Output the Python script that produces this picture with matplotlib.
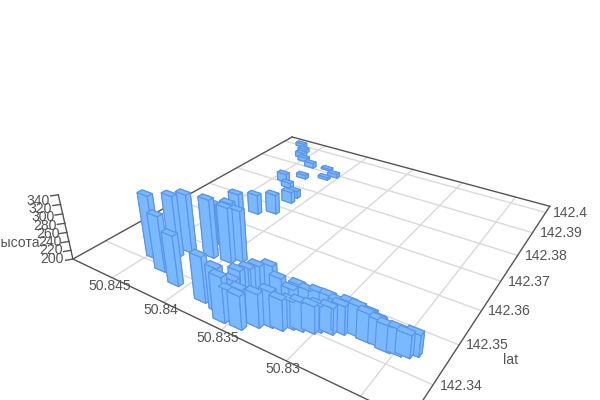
import numpy as np
import matplotlib
matplotlib.use('Agg')
import matplotlib.pyplot as plt
plt.rcParams['font.family'] = ['Liberation Sans', 'DejaVu Sans']

# bar data: lon-like axis (50.82 + n/1e4), lat (142.33 + n/1e4), height
lon_n = [246,234,229,209,230,181,212,222,216,197,191,207,225,213,271,261,256,249,236,229,211,219,206,240,230,213,214,
         144,153,146,136,129,122,117,111,104,101,94,88,78,71,63,57,50,45,41,
         166,157,159,163,161,156,149,141,128,124,116,109,101,93,86,73,67]
lat_n = [115,143,94,76,167,67,177,219,269,182,197,219,354,376,700,672,643,628,608,548,572,617,594,510,490,433,459,
         47,53,59,66,78,81,93,97,103,111,117,127,135,132,133,129,132,136,146,
         61,45,81,106,127,136,148,145,134,141,139,142,143,138,144,151,149]
heights = [338,334,320,307,329,296,328,290,294,321,312,304,246,246,208,210,213,210,212,209,206,204,209,220,212,227,217,
           269,265,271,269,273,263,257,259,256,254,254,258,262,258,253,253,252,246,244,
           291,293,261,262,256,261,261,245,242,251,250,252,252,253,255,244,240]
lon_ticks = [50.845, 50.84, 50.835, 50.83]
lon_grid = [50.845, 50.84, 50.835, 50.83, 50.825]
lat_ticks = [142.4, 142.39, 142.38, 142.37, 142.36, 142.35, 142.34]
z_ticks = [200, 220, 240, 260, 280, 300, 320, 340]

lon = 50.82 + np.array(lon_n) / 1e4
lat = 142.33 + np.array(lat_n) / 1e4
hv = np.array(heights, float)

ELEV, AZIM, ROLL, LF, A, B, C, S, CX, CY = 28.8214, -58.319, -0.9841, -1.4641, 0.2467, 0.2613, -1.3838, 2646.8785, 331.5666, 201.1762
X0, X1, Y0, Y1, Z0, Z1 = 50.822, 50.8492, 142.3324, 142.4033, 200, 340

fig = plt.figure(figsize=(6, 4), dpi=100)
ax = fig.add_axes([0, 0, 1, 1], projection='3d', computed_zorder=False)
ax.set_xlim(X1, X0); ax.set_ylim(Y0, Y1); ax.set_zlim(Z0, Z1)
ax.view_init(elev=ELEV, azim=AZIM, roll=ROLL)
ax.set_proj_type('persp', focal_length=float(np.exp(LF)))
ax.set_box_aspect((np.exp(A), np.exp(B), np.exp(C)))
ax.set_axis_off()
V = ax.viewLim
W = S * V.width
ax.set_position([(CX + S * V.x0) / 600, (400 - CY + S * V.y0) / 400, W / 600, W / 400])

GC = '#d9d9d9'; AC = '#555555'; TC = '#555555'
for t in lon_grid:
    ax.plot([t, t], [Y0, Y1], [Z0, Z0], color=GC, lw=1, zorder=1, clip_on=False)
for t in lat_ticks:
    ax.plot([X0, X1], [t, t], [Z0, Z0], color=GC, lw=1, zorder=1, clip_on=False)
for a, b in [((X1, Y0), (X0, Y0)), ((X0, Y0), (X0, Y1)), ((X0, Y1), (X1, Y1)), ((X1, Y1), (X1, Y0))]:
    ax.plot([a[0], b[0]], [a[1], b[1]], [Z0, Z0], color=AC, lw=1, zorder=2, clip_on=False)
ax.plot([X1, X1], [Y0, Y0], [Z0, Z1], color=AC, lw=1, zorder=2, clip_on=False)
for t in z_ticks:
    ax.plot([X1, X1 + 0.0003], [Y0, Y0 - 0.001], [t, t], color=AC, lw=1, zorder=2, clip_on=False)

DX, DY = 0.001, 0.0012
bars = ax.bar3d(lon - DX / 2, lat - DY / 2, np.full(len(lon), 200.), DX, DY, hv - 200,
                color='#7ab8ff', edgecolor='#5a94ee', linewidth=0.8, shade=False, zorder=3)
bars.set_clip_on(False)

def label(px, py, s):
    fig.text(px / 600, 1 - py / 400, s, ha='center', va='center', fontsize=10.1, color=TC)

for s, p in zip(lon_ticks, [(110, 286), (161, 310), (218, 338), (283, 369)]):
    label(p[0], p[1], f'{s:g}')
for s, p in zip(lat_ticks, [(570, 213), (561, 233), (546, 256), (529, 282), (509, 311), (487, 345), (461, 386)]):
    label(p[0], p[1], f'{s:g}')
for s, p in zip(z_ticks, [(52, 259), (51, 250), (50, 242), (48, 234), (45, 226), (43, 217), (40, 209), (38, 201)]):
    label(p[0], p[1], str(s))
label(511, 360, 'lat')
label(16, 243, 'высота')
fig.savefig('out.png', dpi=100)
